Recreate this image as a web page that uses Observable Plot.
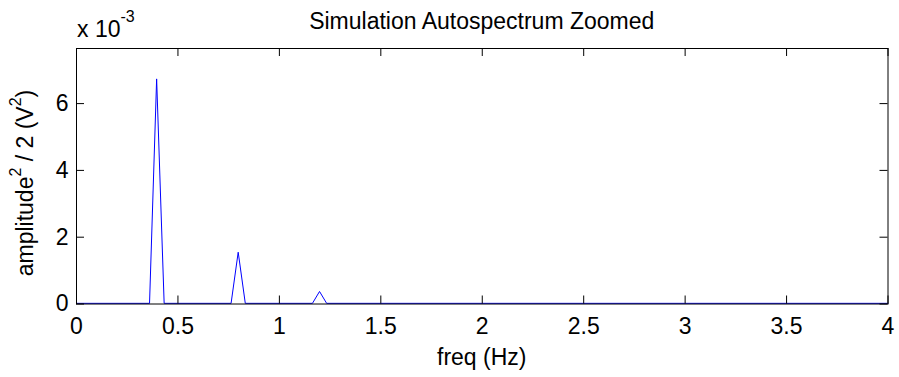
<!DOCTYPE html>
<html><head><meta charset="utf-8">
<script src="https://cdn.jsdelivr.net/npm/d3@7"></script>
<script src="https://cdn.jsdelivr.net/npm/@observablehq/plot@0.6"></script>
<style>body{margin:0;background:#fff}</style>
</head><body><div id="chart"></div>
<script>
// Data (frequency in Hz, power in V^2)
const freq  = [0, 0.36, 0.395, 0.432, 0.762, 0.797, 0.832, 1.163, 1.198, 1.233, 4];
const power = [2e-5, 2e-5, 6.74e-3, 2e-5, 2e-5, 1.55e-3, 2e-5, 2e-5, 0.375e-3, 2e-5, 2e-5];
const xTicks = [0, 0.5, 1, 1.5, 2, 2.5, 3, 3.5, 4];
const xTickLabels = ["0", "0.5", "1", "1.5", "2", "2.5", "3", "3.5", "4"];
const yTicks = [0, 0.002, 0.004, 0.006];
const yTickLabels = ["0", "2", "4", "6"];
const titleText = "Simulation Autospectrum Zoomed";
const xLabelText = "freq (Hz)";

const data = freq.map((f, i) => ({f, p: power[i]}));
const W = 899, H = 377, mL = 76, mR = 11.5, mT = 48, mB = 73.5;
const iW = W - mL - mR, iH = H - mT - mB;
const FONT = '"Liberation Sans", Arial, Helvetica, sans-serif';
const FS = 23;

const chart = Plot.plot({
  width: W, height: H,
  marginLeft: mL, marginRight: mR, marginTop: mT, marginBottom: mB,
  style: {fontFamily: FONT, fontSize: FS + "px", background: "#fff", color: "#000"},
  x: {domain: [0, 4]},
  y: {domain: [0, 0.00765]},
  marks: [
    Plot.line(data, {x: "f", y: "p", stroke: "#0000ff", strokeWidth: 1}),
    Plot.frame({stroke: "#000", strokeWidth: 1}),
    Plot.tickX(xTicks, {x: d => d, insetTop: iH - 8, stroke: "#000"}),
    Plot.tickX(xTicks, {x: d => d, insetBottom: iH - 8, stroke: "#000"}),
    Plot.tickY(yTicks, {y: d => d, insetRight: iW - 8, stroke: "#000"}),
    Plot.tickY(yTicks, {y: d => d, insetLeft: iW - 8, stroke: "#000"}),
    Plot.axisX(xTicks, {tickSize: 0, tickPadding: 14, fontSize: FS, label: null,
      tickFormat: d => xTickLabels[xTicks.indexOf(d)]}),
    Plot.axisY(yTicks, {tickSize: 0, tickPadding: 8, fontSize: FS, label: null,
      tickFormat: d => yTickLabels[yTicks.indexOf(d)]})
  ]
});
document.getElementById("chart").appendChild(chart);

const svg = d3.select(chart);
const cx = mL + iW / 2;
// title
svg.append("text").attr("x", cx).attr("y", 28.5).attr("text-anchor", "middle")
  .attr("font-family", FONT).attr("font-size", FS).attr("fill", "#000").text(titleText);
// x label
svg.append("text").attr("x", cx).attr("y", 365).attr("text-anchor", "middle")
  .attr("font-family", FONT).attr("font-size", FS).attr("fill", "#000").text(xLabelText);
// y label with superscripts
const yl = svg.append("text").attr("transform", "translate(33,183) rotate(-90)")
  .attr("text-anchor", "middle").attr("font-family", FONT).attr("font-size", FS).attr("fill", "#000");
yl.append("tspan").text("amplitude");
yl.append("tspan").attr("font-size", 16).attr("dy", -12).text("2");
yl.append("tspan").attr("dy", 12).text(" / 2 (V");
yl.append("tspan").attr("font-size", 16).attr("dy", -12).text("2");
yl.append("tspan").attr("dy", 12).text(")");
// exponent
const ex = svg.append("text").attr("x", 77).attr("y", 37).attr("text-anchor", "start")
  .attr("font-family", FONT).attr("font-size", FS).attr("fill", "#000");
ex.append("tspan").text("x 10");
ex.append("tspan").attr("font-size", 16).attr("dy", -15).text("-3");
</script>
</body></html>
